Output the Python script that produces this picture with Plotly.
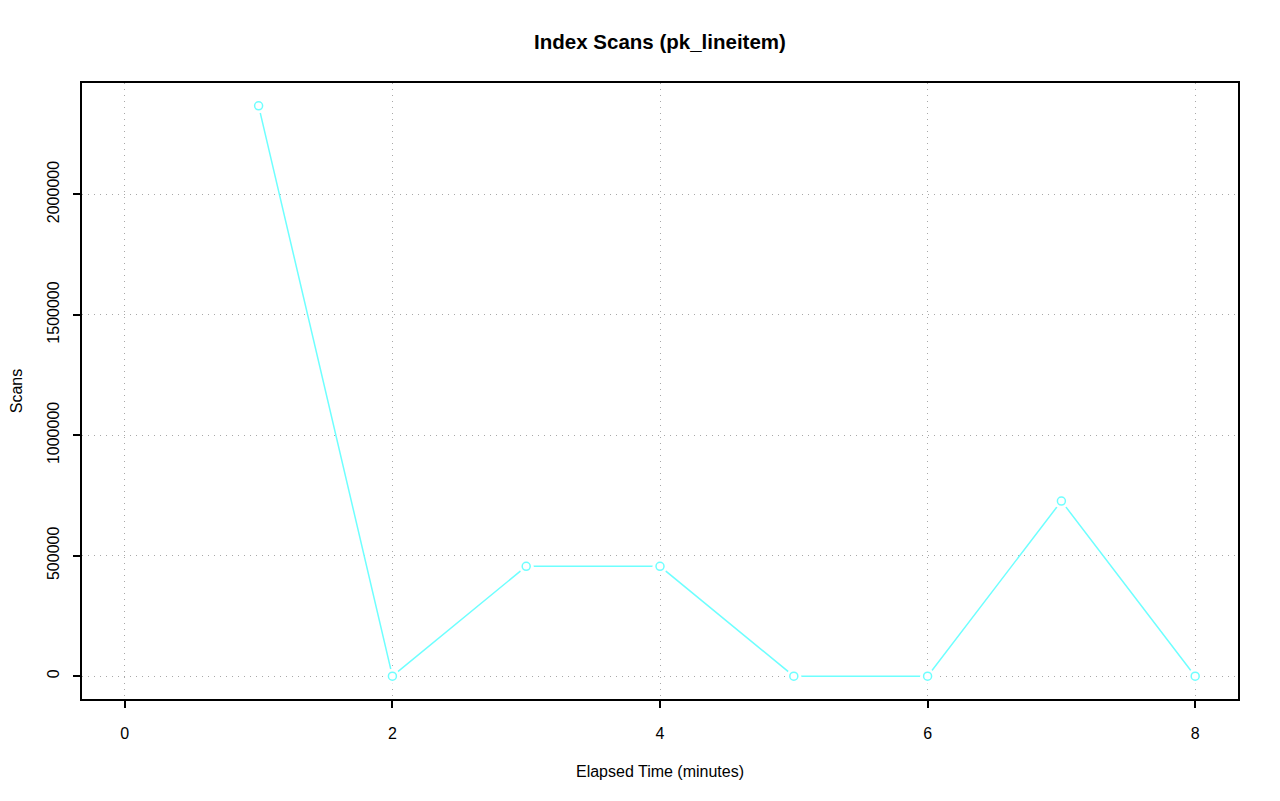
import plotly.graph_objects as go

elapsed_minutes = [1, 2, 3, 4, 5, 6, 7, 8]
scans = [2368000, 0, 456000, 456000, 0, 0, 727000, 0]
x_ticks = [0, 2, 4, 6, 8]
y_ticks = [0, 500000, 1000000, 1500000, 2000000]

CYAN = "rgb(110,255,255)"
FONT = "Liberation Sans, Arial, Helvetica, sans-serif"
GRID = "#a8a8a8"

fig = go.Figure()
fig.add_trace(go.Scatter(x=elapsed_minutes, y=scans, mode="lines",
                         line=dict(color=CYAN, width=1.5), hoverinfo="skip"))
# white underlay to create type="b" gaps around points
fig.add_trace(go.Scatter(x=elapsed_minutes, y=scans, mode="markers",
                         marker=dict(symbol="circle", size=15, color="white",
                                     line=dict(width=0)), hoverinfo="skip"))
fig.add_trace(go.Scatter(x=elapsed_minutes, y=scans, mode="markers",
                         marker=dict(symbol="circle-open", size=8, color=CYAN,
                                     line=dict(width=1.5, color=CYAN))))

ymax = max(scans)
fig.update_layout(
    width=1280, height=801,
    paper_bgcolor="white", plot_bgcolor="white",
    margin=dict(l=74, r=50, t=75, b=110),
    showlegend=False,
    font=dict(family=FONT, size=16, color="black"),
    title=dict(text="<b>Index Scans (pk_lineitem)</b>", x=0.5, xanchor="center",
               xref="paper",
               y=1 - 34 / 801, yanchor="middle", font=dict(size=20.5, family=FONT)),
    xaxis=dict(range=[-0.32, 8.32], tickvals=x_ticks, ticktext=[str(v) for v in x_ticks],
               automargin=False,
               showgrid=True, gridcolor=GRID, griddash="1px,5px", gridwidth=1,
               zeroline=False, showline=True, linecolor="black", linewidth=2, mirror=True,
               ticks="outside", ticklen=7, tickwidth=1.5, tickcolor="black",
               tickfont=dict(size=16), ticklabelstandoff=12,
               title=dict(text="Elapsed Time (minutes)", standoff=25, font=dict(size=16))),
    yaxis=dict(range=[-0.04 * ymax, 1.04 * ymax], tickvals=y_ticks,
               ticktext=[str(v) for v in y_ticks], tickangle=-90,
               automargin=False,
               showgrid=True, gridcolor=GRID, griddash="1px,5px", gridwidth=1,
               zeroline=False, showline=True, linecolor="black", linewidth=2, mirror=True,
               ticks="outside", ticklen=7, tickwidth=1.5, tickcolor="black",
               tickfont=dict(size=16), ticklabelstandoff=8,
               title=dict(text="Scans", standoff=24, font=dict(size=16))),
)

fig.write_html("out.html")
